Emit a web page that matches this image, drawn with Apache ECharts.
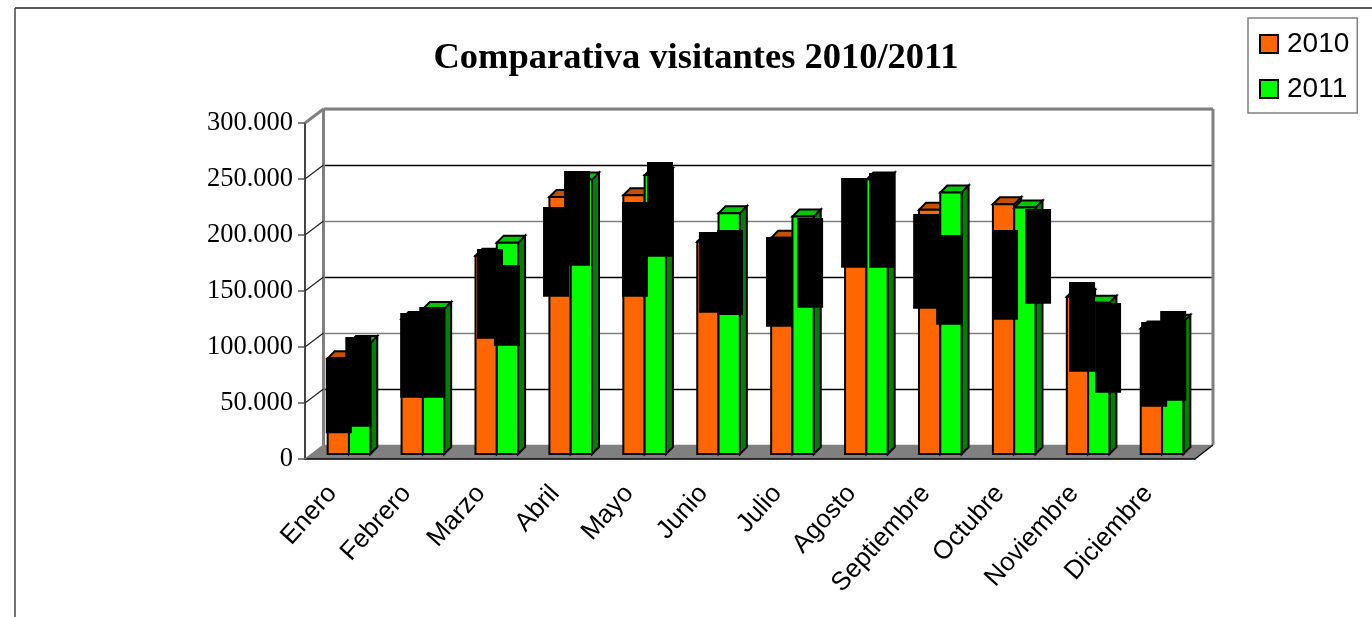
<!DOCTYPE html>
<html>
<head>
<meta charset="utf-8">
<title>Comparativa visitantes 2010/2011</title>
<script src="https://cdn.jsdelivr.net/npm/echarts@6/dist/echarts.min.js"></script>
<style>
    html, body { margin: 0; padding: 0; background: #fff; }
    #chart { width: 1372px; height: 617px; }
</style>
</head>
<body>
<div id="chart"></div>
<script>
    const months = ['Enero', 'Febrero', 'Marzo', 'Abril', 'Mayo', 'Junio', 'Julio', 'Agosto', 'Septiembre', 'Octubre', 'Noviembre', 'Diciembre']
    const visitors2010 = [85400, 120500, 177000, 229500, 231000, 189500, 193000, 238000, 218000, 223000, 140500, 112000]
    const visitors2011 = [99000, 129500, 188700, 245000, 249000, 215000, 212000, 245000, 233500, 220000, 135000, 118000]
    const yTicks = [0, 50000, 100000, 150000, 200000, 250000, 300000]

    // black blocks painted over the data labels, read in axis units
    const blockTop2010 = [85700, 125900, 183000, 220500, 225000, 198200, 193750, 246400, 214300, 200000, 153600, 117900]
    const blockEnd2010 = [18500, 50300, 102900, 140400, 140400, 126200, 113700, 166300, 129700, 119900, 73500, 42200]
    const blockTop2011 = [104500, 131250, 168750, 252700, 260700, 200000, 210700, 250900, 195500, 218750, 134800, 127700]
    const blockEnd2011 = [24400, 50300, 96700, 168100, 176200, 124100, 130600, 166300, 115400, 134200, 54700, 47600]
    const blockShift2010 = [0.5, 1, 3.9, -4, 1, 4, -2.8, -1.6, -3.5, 1.5, 4.6, 2.8]
    const blockShift2011 = [-1.3, -1.3, -0.5, -4.3, 4.7, 0.8, 7, 5, -1.8, 13.2, 9.3, 0.5]

    const BAR_W = 21.3
    const DEPTH = 7
    const BLOCK_W = 26
    const FRONT = { left: 305, right: 177, top: 123, bottom: 158 }
    const WALL = { left: 323.5, right: 159, top: 109, bottom: 172 }
    const BARS = { left: 312, right: 173, top: 118, bottom: 163 }

    const barBox = (front, top, side) => (params, api) => {
        const i = api.value(0)
        const s = api.value(2)
        const c = api.coord([i, api.value(1)])
        const b = api.coord([i, 0])
        const x0 = c[0] + s * BAR_W - BAR_W
        const x1 = x0 + BAR_W
        const y0 = c[1]
        const y1 = b[1]
        const stroke = { stroke: '#000', lineWidth: 2, lineJoin: 'miter' }
        const poly = (points, fill) => ({
            type: 'polygon',
            shape: { points: points },
            style: Object.assign({ fill: fill }, stroke)
        })
        return {
            type: 'group',
            children: [
                poly([[x1, y0], [x1 + DEPTH, y0 - DEPTH], [x1 + DEPTH, y1 - DEPTH], [x1, y1]], side),
                poly([[x0, y0], [x0 + DEPTH, y0 - DEPTH], [x1 + DEPTH, y0 - DEPTH], [x1, y0]], top),
                poly([[x0, y0], [x1, y0], [x1, y1], [x0, y1]], front)
            ]
        }
    }

    const blockRect = (params, api) => {
        const i = api.value(0)
        const s = api.value(3)
        const a = api.coord([i, api.value(1)])
        const b = api.coord([i, api.value(2)])
        const cx = a[0] + (s - 0.5) * BAR_W + api.value(4)
        return {
            type: 'rect',
            shape: { x: cx - BLOCK_W / 2, y: a[1], width: BLOCK_W, height: b[1] - a[1] },
            style: { fill: '#000' }
        }
    }

    const blocks = months.map((m, i) => [i, blockTop2010[i], blockEnd2010[i], 0, blockShift2010[i]])
        .concat(months.map((m, i) => [i, blockTop2011[i], blockEnd2011[i], 1, blockShift2011[i]]))

    const option = {
        animation: false,
        backgroundColor: '#fff',
        title: {
            text: 'Comparativa visitantes 2010/2011',
            left: 691,
            top: 35,
            textAlign: 'center',
            textStyle: { fontFamily: 'Liberation Serif', fontWeight: 'bold', fontSize: 36.5, color: '#000' }
        },
        legend: {
            left: 1248,
            top: 18,
            orient: 'vertical',
            padding: [11, 8, 9, 11],
            backgroundColor: '#fff',
            borderColor: '#808080',
            borderWidth: 1.5,
            itemWidth: 18,
            itemHeight: 18,
            itemGap: 15,
            icon: 'rect',
            textStyle: { fontFamily: 'Liberation Sans', fontSize: 28, color: '#000', lineHeight: 30, padding: [0, 0, 0, 4] },
            data: [
                { name: '2010', itemStyle: { color: '#FF6600', borderColor: '#000', borderWidth: 2 } },
                { name: '2011', itemStyle: { color: '#00FF00', borderColor: '#000', borderWidth: 2 } }
            ]
        },
        grid: [
            Object.assign({}, FRONT),
            Object.assign({}, WALL),
            Object.assign({}, BARS)
        ],
        xAxis: [
            {
                type: 'category',
                gridIndex: 0,
                data: months,
                axisLine: { lineStyle: { color: '#000', width: 1.5 } },
                axisTick: { length: 7, lineStyle: { color: '#555', width: 1.5 } },
                axisLabel: { rotate: 48, interval: 0, margin: 39, verticalAlign: 'bottom', fontFamily: 'Liberation Sans', fontSize: 26, color: '#000' }
            },
            { type: 'category', gridIndex: 1, data: months, show: false },
            { type: 'category', gridIndex: 2, data: months, show: false }
        ],
        yAxis: [
            {
                type: 'value',
                gridIndex: 0,
                min: 0,
                max: 300000,
                interval: 50000,
                axisLine: { show: true, lineStyle: { color: '#444', width: 2 } },
                axisTick: { show: true, length: 7, lineStyle: { color: '#555', width: 1.5 } },
                axisLabel: {
                    margin: 12,
                    fontFamily: 'Liberation Serif',
                    fontSize: 26.5,
                    color: '#000',
                    formatter: v => String(v).replace(/\B(?=(\d{3})+$)/g, '.')
                },
                splitLine: { show: false }
            },
            {
                type: 'value',
                gridIndex: 1,
                min: 0,
                max: 300000,
                interval: 50000,
                axisLine: { show: false },
                axisTick: { show: false },
                axisLabel: { show: false },
                splitLine: {
                    show: true,
                    lineStyle: { width: 1.4, color: ['#808080', '#000', '#808080', '#000', '#808080', '#000', '#808080'] }
                }
            },
            { type: 'value', gridIndex: 2, min: 0, max: 300000, interval: 50000, show: false }
        ],
        series: [
            {
                name: '2010',
                type: 'custom',
                xAxisIndex: 2,
                yAxisIndex: 2,
                clip: false,
                z: 3,
                renderItem: barBox('#FF6600', '#C65000', '#A04000'),
                itemStyle: { color: '#FF6600' },
                data: visitors2010.map((v, i) => [i, v, 0])
            },
            {
                name: '2011',
                type: 'custom',
                xAxisIndex: 2,
                yAxisIndex: 2,
                clip: false,
                z: 4,
                renderItem: barBox('#00FF00', '#00C800', '#008000'),
                itemStyle: { color: '#00FF00' },
                data: visitors2011.map((v, i) => [i, v, 1])
            },
            {
                name: 'bloques',
                type: 'custom',
                xAxisIndex: 2,
                yAxisIndex: 2,
                clip: false,
                z: 5,
                renderItem: blockRect,
                data: blocks
            }
        ]
    }

    const chart = echarts.init(document.getElementById('chart'))
    chart.setOption(option)

    // frame of the fake 3D box, taken from the two y axes
    const frontY = v => chart.convertToPixel({ yAxisIndex: 0 }, v)
    const wallY = v => chart.convertToPixel({ yAxisIndex: 1 }, v)
    const fx0 = FRONT.left
    const fx1 = 1372 - FRONT.right
    const wx0 = WALL.left
    const wx1 = 1372 - WALL.right
    const line = (x1, y1, x2, y2, color, width, z) => ({
        type: 'line',
        z: z || 1,
        shape: { x1, y1, x2, y2 },
        style: { stroke: color, lineWidth: width }
    })
    const elements = [
        {
            type: 'polygon',
            z: -1,
            shape: { points: [[fx0, frontY(0)], [wx0, wallY(0)], [wx1, wallY(0)], [fx1, frontY(0)]] },
            style: { fill: '#808080' }
        },
        line(wx0, wallY(300000), wx1, wallY(300000), '#808080', 3),
        line(wx0, wallY(300000), wx0, wallY(0), '#808080', 3),
        line(wx1, wallY(300000), wx1, wallY(0), '#808080', 3),
        line(fx1, frontY(0), wx1, wallY(0), '#000', 1.2),
        line(fx0, frontY(300000), wx0, wallY(300000), '#808080', 3),
        // outer chart area border, only top and left fall inside the crop
        line(15, 8, 1372, 8, '#222', 1.5),
        line(15, 8, 15, 617, '#444', 1.5)
    ]
    yTicks.slice(0, -1).forEach(v => {
        elements.push(line(fx0, frontY(v), wx0, wallY(v), v === 0 ? '#808080' : '#222', 1.2))
    })
    chart.setOption({ graphic: { elements: elements } })
</script>
</body>
</html>
